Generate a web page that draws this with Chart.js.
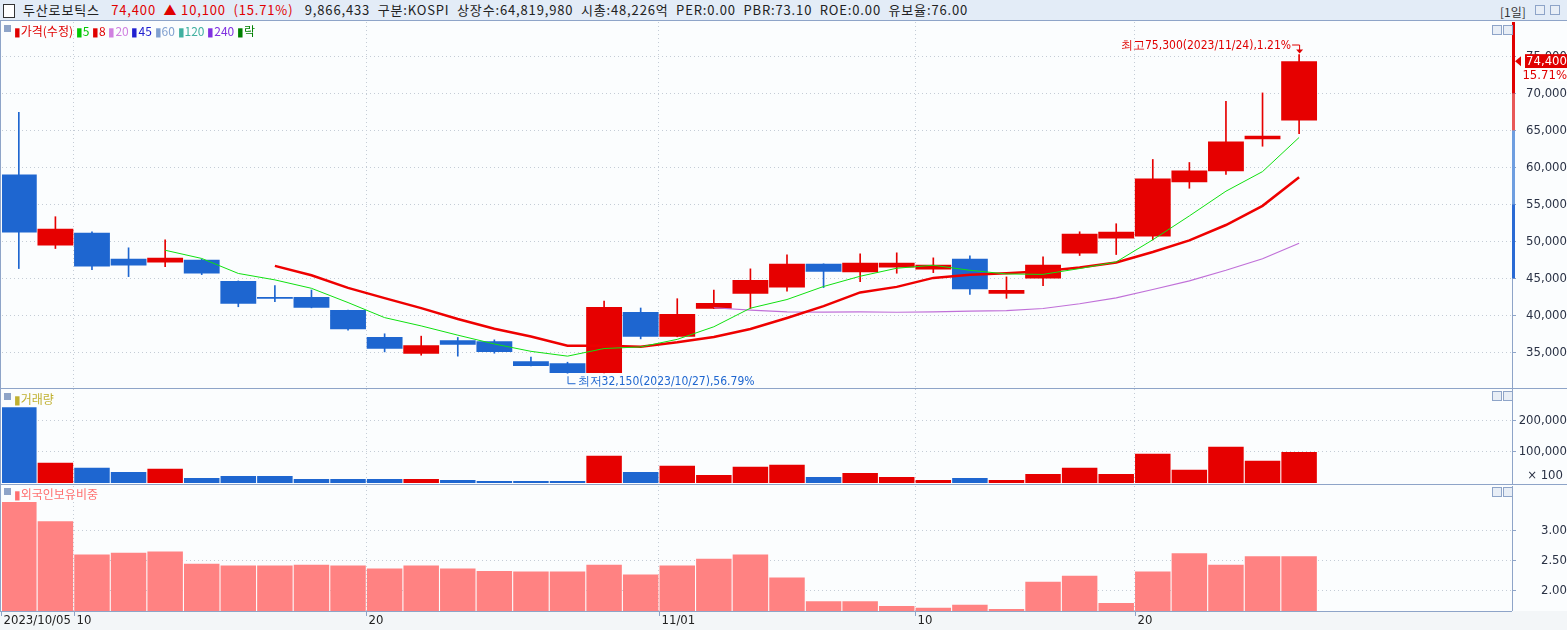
<!DOCTYPE html>
<html><head><meta charset="utf-8">
<script src="https://cdn.jsdelivr.net/npm/chart.js@4"></script>
<style>
body{margin:0;width:1567px;height:630px;overflow:hidden;background:#fbfdfe;font-family:"Noto Sans CJK KR","Noto Sans",sans-serif;position:relative}
.abs{position:absolute}
#title{left:0;top:0;width:1567px;height:20px;background:#e3ecf7;border-bottom:1px solid #8ea4c8;font-size:13px;line-height:20px;white-space:pre;color:#222;letter-spacing:0.85px}
.hl{height:1px;background:#8ea4c8;left:0;width:1567px}
.leg{font-size:12px;white-space:pre;line-height:14px}
.sq{display:inline-block;width:7px;height:7px;background:#8ea4c8;vertical-align:top;margin-top:1px}
.btn{width:8px;height:8px;border:1px solid #8ea4c8;background:#e8eef6}
canvas{position:absolute;left:0}
</style></head><body>
<div id="title" class="abs"><span style="display:inline-block;width:10px;height:12px;border:1px solid #333;background:#fff;vertical-align:middle;margin:0 8px 0 3px"></span>두산로보틱스   <span style="color:#e00000">74,400  ▲ 10,100  (15.71%)</span>   9,866,433  구분:KOSPI  상장수:64,819,980  시총:48,226억  PER:0.00  PBR:73.10  ROE:0.00  유보율:76.00</div>
<div class="abs" style="left:1500px;top:3px;font-size:12px;color:#333">[1일]</div>
<div class="abs btn" style="left:1535px;top:5px"></div><div class="abs btn" style="left:1550px;top:5px"></div>

<canvas id="c1" width="1567" height="367" style="top:21px"></canvas>
<canvas id="c2" width="1567" height="96" style="top:388px"></canvas>
<canvas id="c3" width="1567" height="127" style="top:484px"></canvas>
<div class="abs" style="left:0;top:611px;width:1567px;height:19px;background:#f3f6f8"></div>
<canvas id="c4" width="1567" height="19" style="top:611px;z-index:2"></canvas>
<div class="abs hl" style="top:388px"></div>
<div class="abs hl" style="top:484px"></div>
<div class="abs hl" style="top:611px;width:1512px"></div>
<div class="abs" style="left:0;top:21px;width:1px;height:590px;background:#8ea4c8"></div>

<div class="abs leg" style="left:4px;top:24px"><span class="sq"></span> <span style="color:#e00000">▮가격(수정)</span> <span style="color:#00c800">▮5</span> <span style="color:#e00000">▮8</span> <span style="color:#d080e0">▮20</span> <span style="color:#2020d0">▮45</span> <span style="color:#80a0d0">▮60</span> <span style="color:#40b0a0">▮120</span> <span style="color:#8030e0">▮240</span> <span style="color:#008000">▮락</span></div>
<div class="abs leg" style="left:4px;top:392px"><span class="sq"></span> <span style="color:#c0b030">▮거래량</span></div>
<div class="abs leg" style="left:4px;top:487px"><span class="sq"></span> <span style="color:#ff7070">▮외국인보유비중</span></div>
<div class="abs btn" style="left:1492px;top:25px"></div><div class="abs btn" style="left:1503px;top:25px"></div>
<div class="abs btn" style="left:1492px;top:391px"></div><div class="abs btn" style="left:1503px;top:391px"></div>
<div class="abs btn" style="left:1492px;top:487px"></div><div class="abs btn" style="left:1503px;top:487px"></div>

<script>
const dates = ["2023/10/05","10/06","10/10","10/11","10/12","10/13","10/16","10/17","10/18","10/19","10/20","10/23","10/24","10/25","10/26","10/27","10/30","10/31","11/01","11/02","11/03","11/06","11/07","11/08","11/09","11/10","11/13","11/14","11/15","11/16","11/17","11/20","11/21","11/22","11/23","11/24"];
const tickIdx = [0,2,10,18,25,31];
const tickText = ["2023/10/05","10","20","11/01","10","20"];
const opens  = [59050,49440,51170,47640,47130,47500,44650,42470,42470,40700,37040,34770,36630,36490,33780,33510,32180,40430,37080,40880,42900,43740,46960,45820,46460,46180,47640,42920,44960,48360,50400,50650,58000,59480,63840,66350];
const closes = [51200,51710,46590,46730,47770,45640,41560,42240,41020,38120,35450,35950,35990,35040,33140,32190,41110,37080,40160,41660,44780,46960,45900,47090,47090,46820,43520,43420,46820,51030,51300,58510,59590,63530,64300,74400];
const highs  = [67470,53340,51300,49130,50220,47600,44650,44020,43420,40700,37490,37170,36990,36670,34320,33640,41930,40980,42240,43420,46280,48180,46960,48310,48450,47770,48040,45190,47910,51300,52390,61090,60680,68970,70100,75300];
const lows   = [46320,49030,46180,45230,46590,45500,41150,41830,41000,37990,35040,34590,34460,34860,33140,32150,32180,36800,37080,40880,40910,43250,43740,44550,45690,45770,42830,42290,44010,48090,48220,50200,57190,59080,62880,64570];
const volumes = [242000,64500,48400,35500,45200,16100,22600,22600,12900,12900,12900,12900,9700,6500,6500,6500,87000,35500,54800,25800,51600,58000,19400,32300,19400,9700,16100,9700,29000,48400,29000,93500,41900,116000,71000,98700];
const foreignRatio = [3.47,3.15,2.60,2.63,2.65,2.45,2.42,2.42,2.43,2.42,2.37,2.42,2.37,2.33,2.32,2.32,2.43,2.27,2.42,2.53,2.60,2.22,1.83,1.83,1.75,1.72,1.77,1.70,2.15,2.25,1.80,2.32,2.62,2.43,2.57,2.57];
const priceTicks = [35000,40000,45000,50000,55000,60000,65000,70000,75000];

const RED='#e60000', BLUE='#1e66d0';
const up = closes.map((c,i)=>c>=opens[i]);
const col = up.map(u=>u?RED:BLUE);
function ma(n){return closes.map((c,i)=>i<n-1?null:closes.slice(i-n+1,i+1).reduce((a,b)=>a+b,0)/n);}
const XMIN=-0.46, XMAX=40.82;
const fmt = v=>v.toLocaleString('en-US');
const TF = {size:13,family:'DejaVu Sans Condensed'};
function xAxis(){return {type:'linear',min:XMIN,max:XMAX,offset:false,
  afterBuildTicks:s=>{s.ticks=tickIdx.map(i=>({value:i-0.5}));},
  afterFit:s=>{s.height=0;},
  ticks:{display:false,padding:0},grid:{color:'#c4ccd6',drawTicks:false,offset:false,tickLength:0},border:{display:false,dash:[1,3]}};}
function yAxis(extra){return Object.assign({position:'right',
  afterFit:s=>{s.width=55;s.paddingTop=0;s.paddingBottom=0;},
  grid:{color:'#c4ccd6',drawTicks:true,tickLength:4,tickColor:'#8ea4c8'},
  border:{color:'#8ea4c8',dash:[1,3]}},extra);}
const base = {animation:false,responsive:false,maintainAspectRatio:false,
  plugins:{legend:{display:false},tooltip:{enabled:false}}};
const lay = {autoPadding:false};
const xy = arr=>arr.map((v,i)=>({x:i,y:v}));

const annot = {id:'annot',afterDatasetsDraw(ch){
  const c=ch.ctx,x=ch.scales.x,y=ch.scales.y;
  c.save();
  c.font='12px "DejaVu Sans Condensed"';
  const hx=x.getPixelForValue(35), hy=y.getPixelForValue(75300);
  c.fillStyle='#e00000';c.strokeStyle='#e00000';c.textAlign='right';c.textBaseline='bottom';
  c.fillText('최고75,300(2023/11/24),1.21%',hx-8,hy-3);
  c.beginPath();c.moveTo(hx-7,hy-9.5);c.lineTo(hx+0.5,hy-9.5);c.lineTo(hx+0.5,hy-4);c.stroke();
  c.beginPath();c.moveTo(hx-3,hy-5);c.lineTo(hx+4,hy-5);c.lineTo(hx+0.5,hy-1);c.fill();
  const lx=x.getPixelForValue(15), ly=y.getPixelForValue(32150);
  c.fillStyle='#1e66d0';c.strokeStyle='#1e66d0';c.textAlign='left';c.textBaseline='top';
  c.fillText('최저32,150(2023/10/27),56.79%',lx+10,ly+3);
  c.beginPath();c.moveTo(lx+0.5,ly+3);c.lineTo(lx+0.5,ly+10.5);c.lineTo(lx+8,ly+10.5);c.stroke();
  const ax=ch.chartArea.right;
  const seg=[[y.max,70000,'#e00000'],[70000,65000,'#e85858'],[65000,55000,'#6e9ee0'],[55000,45000,'#2a6ad4']];
  seg.forEach(s=>{const a=y.getPixelForValue(s[0]),b=y.getPixelForValue(s[1]);c.fillStyle=s[2];c.fillRect(ax,a,3,b-a);});
  const py=y.getPixelForValue(74400);
  c.fillStyle='#e00000';
  c.beginPath();c.moveTo(ax+3,py);c.lineTo(ax+9,py-5);c.lineTo(ax+9,py+5);c.fill();
  c.fillRect(ax+13,py-7,43,14);
  c.fillStyle='#fff';c.fillRect(ax+13,py+7,43,13);
  c.font='13px "DejaVu Sans Condensed"';c.textAlign='right';c.textBaseline='middle';
  c.fillStyle='#fff';c.fillText('74,400',ax+55,py);
  c.fillStyle='#e00000';c.fillText('15.71%',ax+55,py+14);
  c.restore();
}};

new Chart(document.getElementById('c1'),{type:'bar',
  data:{datasets:[
    {type:'line',data:xy(ma(5)),borderColor:'#10e010',borderWidth:1,pointRadius:0,order:1},
    {type:'line',data:xy(ma(8)),borderColor:'#ee0000',borderWidth:2.5,pointRadius:0,order:1},
    {type:'line',data:xy(ma(20)),borderColor:'#c070d8',borderWidth:1.2,pointRadius:0,order:1},
    {data:xy(lows.map((l,i)=>[l,highs[i]])),backgroundColor:col,barThickness:1,grouped:false,order:3},
    {data:xy(opens.map((o,i)=>[o,closes[i]])),backgroundColor:col,barPercentage:0.98,categoryPercentage:1,grouped:false,order:2}
  ]},
  options:{...base,layout:{...lay,padding:{left:2,top:1,bottom:0,right:0}},
    scales:{x:xAxis(),y:yAxis({min:30150,max:79700,
      afterBuildTicks:s=>{s.ticks=priceTicks.map(v=>({value:v}));},
      ticks:{color:'#2a3245',font:TF,crossAlign:'far',padding:3,callback:v=>fmt(v)}})}},
  plugins:[annot]});

const volPlug={id:'vp',afterDraw(ch){const c=ch.ctx;c.save();c.font='13px "DejaVu Sans Condensed"';c.fillStyle='#2a3245';c.textAlign='right';c.textBaseline='middle';c.fillText('× 100',1563,ch.scales.y.getPixelForValue(22000));c.restore();}};
new Chart(document.getElementById('c2'),{type:'bar',
  data:{datasets:[{data:xy(volumes),backgroundColor:col,barPercentage:0.97,categoryPercentage:1}]},
  options:{...base,layout:{...lay,padding:{left:2,top:1,bottom:1,right:0}},
    scales:{x:xAxis(),y:yAxis({min:0,max:300000,
      afterBuildTicks:s=>{s.ticks=[100000,200000].map(v=>({value:v}));},
      ticks:{color:'#2a3245',font:TF,crossAlign:'far',padding:3,callback:v=>fmt(v)}})}},
  plugins:[volPlug]});

const FMIN=1.667;
new Chart(document.getElementById('c3'),{type:'bar',
  data:{datasets:[{data:xy(foreignRatio.map(v=>[FMIN,v])),backgroundColor:'#ff8282',barPercentage:0.97,categoryPercentage:1}]},
  options:{...base,layout:{...lay,padding:{left:2,top:2,bottom:0,right:0}},
    scales:{x:xAxis(),y:yAxis({min:FMIN,max:3.733,
      afterBuildTicks:s=>{s.ticks=[2,2.5,3].map(v=>({value:v}));},
      ticks:{color:'#2a3245',font:TF,crossAlign:'far',padding:3,callback:v=>v.toFixed(2)}})}},
  plugins:[{id:'lab',afterDraw(ch){
    const x=ch.scales.x,c=document.getElementById('c4').getContext('2d');
    c.font='13px "DejaVu Sans Condensed"';c.fillStyle='#222';c.textBaseline='middle';c.strokeStyle='#8ea4c8';
    tickIdx.forEach((i,k)=>{const px=Math.round(x.getPixelForValue(i-0.5))+0.5;
      c.beginPath();c.moveTo(px,0);c.lineTo(px,5);c.stroke();
      c.fillText(tickText[k],px+2,10);});
  }}]});
</script>
</body></html>
